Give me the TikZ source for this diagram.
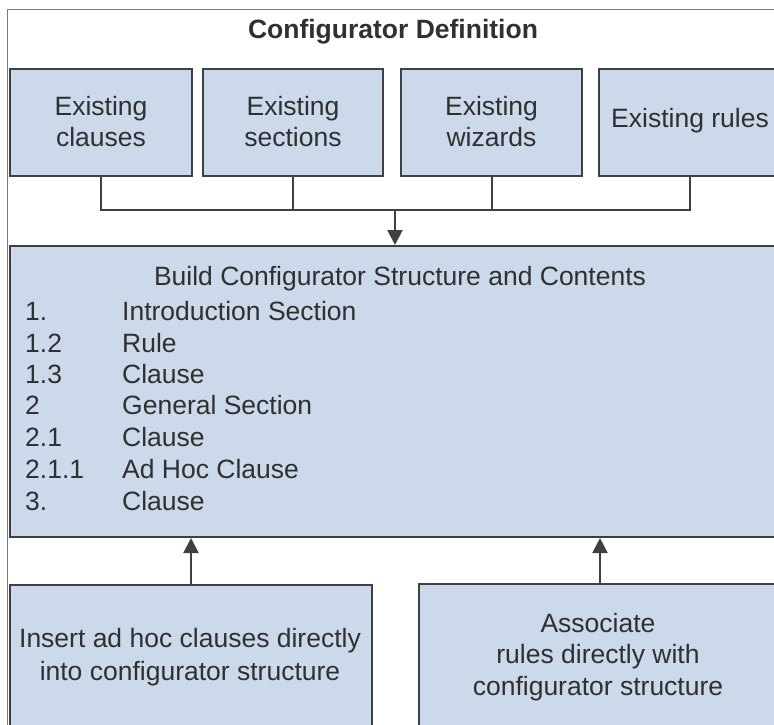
\documentclass[tikz,border=0pt]{standalone}
\usepackage{fontspec}
\setmainfont{Liberation Sans}
\usetikzlibrary{arrows.meta}
\definecolor{boxfill}{HTML}{CCD9EA}
\definecolor{boxline}{HTML}{404040}
\definecolor{txtcol}{HTML}{303030}
\definecolor{framecol}{HTML}{7A7A7A}
\tikzset{
  boxnode/.style={draw=boxline, fill=boxfill, line width=2pt, rectangle, inner sep=0pt},
  txt/.style={anchor=base, inner sep=0pt, text=txtcol, font=\fontsize{26.5}{31}\selectfont},
  conn/.style={draw=boxline, line width=2pt},
  arr/.style={draw=boxline, line width=2pt, -{Triangle[length=15pt,width=15pt]}},
  framestyle/.style={draw=framecol, line width=1pt}
}
\begin{document}
\begin{tikzpicture}[x=1pt,y=-1pt]
\useasboundingbox (0,0) rectangle (774,725);
\clip (0,0) rectangle (774,725);
\fill[white] (0,0) rectangle (774,725);
% outer frame
\draw[framestyle] (7,725) -- (7,10) -- (774,10);
% title
\node[txt, font=\fontsize{26.5}{31}\selectfont\bfseries] (title) at (393,39) {Configurator Definition};
% top boxes
\node[boxnode, minimum width=182pt, minimum height=107pt] (b1) at (101,122.5) {};
\node[boxnode, minimum width=180pt, minimum height=107pt] (b2) at (293,122.5) {};
\node[boxnode, minimum width=181pt, minimum height=107pt] (b3) at (491.5,122.5) {};
\node[boxnode, minimum width=182pt, minimum height=107pt] (b4) at (690,122.5) {};
\node[txt] (t1a) at (101,115) {Existing};
\node[txt] (t1b) at (101,146) {clauses};
\node[txt] (t2a) at (293,115) {Existing};
\node[txt] (t2b) at (293,146) {sections};
\node[txt] (t3a) at (491.5,115) {Existing};
\node[txt] (t3b) at (491.5,146) {wizards};
\node[txt] (t4a) at (690,128) {Existing rules};
% main box
\node[boxnode, minimum width=775pt, minimum height=291pt] (main) at (397.5,391.5) {};
\node[txt] (mt) at (400,285) {Build Configurator Structure and Contents};
\foreach \n/\lab/\yy [count=\i] in {1./Introduction Section/320, 1.2/Rule/352, 1.3/Clause/383, 2/General Section/414, 2.1/Clause/446, 2.1.1/Ad Hoc Clause/478, 3./Clause/510}{
  \node[txt, anchor=base west] (num\i) at (25,\yy) {\n};
  \node[txt, anchor=base west] (lab\i) at (122,\yy) {\lab};
}
% connectors from top boxes
\coordinate (j) at (395,210);
\draw[conn] (b1.south) -- (b1.south |- j) -- (b4.south |- j) -- (b4.south);
\draw[conn] (b2.south) -- (b2.south |- j);
\draw[conn] (b3.south) -- (b3.south |- j);
\draw[arr] (j) -- (main.north -| j);
% bottom boxes
\node[boxnode, minimum width=362pt, minimum height=160pt] (bl) at (191,665) {};
\node[boxnode, minimum width=358pt, minimum height=160pt] (br) at (598,664) {};
\node[txt] (l1) at (190,647) {Insert ad hoc clauses directly};
\node[txt] (l2) at (190,680) {into configurator structure};
\node[txt] (r1) at (598,632) {Associate};
\node[txt] (r2) at (598,663) {rules directly with};
\node[txt] (r3) at (598,695) {configurator structure};
\draw[arr] (bl.north) -- (bl.north |- main.south);
\draw[arr] ([xshift=2pt]br.north) -- ([xshift=2pt]br.north |- main.south);
\end{tikzpicture}
\end{document}
